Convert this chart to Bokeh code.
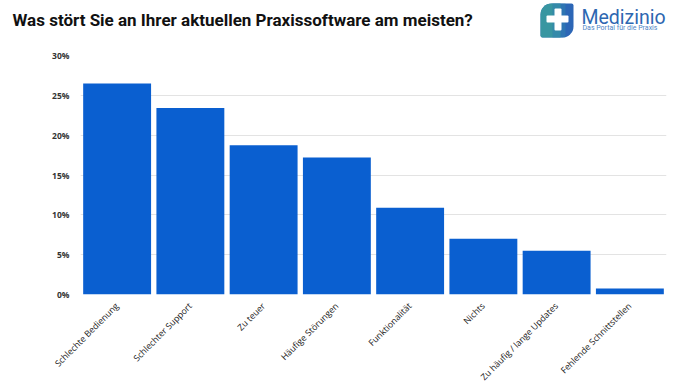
from bokeh.plotting import figure
from bokeh.layouts import column
from bokeh.models import ColumnDataSource, NumeralTickFormatter, FixedTicker, BoxAnnotation, Range1d
from bokeh.core.properties import value
from bokeh.embed import file_html
from bokeh.resources import INLINE
import math

title_text = "Was stört Sie an Ihrer aktuellen Praxissoftware am meisten?"
categories = ["Schlechte Bedienung", "Schlechter Support", "Zu teuer", "Häufige Störungen",
              "Funktionalität", "Nichts", "Zu häufig / lange Updates", "Fehlende Schnittstellen"]
values = [26.5, 23.4, 18.75, 17.2, 10.9, 7.0, 5.5, 0.75]
y_ticks = [0, 5, 10, 15, 20, 25, 30]

W = 678
HH = 48

# ---------- header (title + logo) ----------
h = figure(width=W, height=HH, x_range=Range1d(0, W), y_range=Range1d(HH, 0),
           output_backend="svg", toolbar_location=None,
           min_border=0, min_border_left=0, min_border_right=0, min_border_top=0, min_border_bottom=0)
h.frame_align = False
h.axis.visible = False
h.grid.visible = False
h.outline_line_color = None
h.background_fill_color = "white"
h.border_fill_color = "white"

h.text(x=[12], y=[19], text=[title_text], text_font=value("Roboto"), text_font_size="17px",
       text_font_style="bold", text_color="#111111", text_baseline="alphabetic")

def box(l, r, t, b, color, radius, alpha=1.0):
    h.add_layout(BoxAnnotation(left=l, right=r, top=t, bottom=b, fill_color=color,
                               fill_alpha=alpha, line_color=None, border_radius=radius))

box(540, 573, 3, 37, "#2c66b6", (11, 2, 11, 2))
box(540, 560, 3, 37, "#3b9f9d", (11, 0, 0, 2), 0.85)
box(552, 565, 3, 37, "#3182b0", 0, 0.55)
box(554, 561, 8, 30, "white", 1)
box(546, 568, 15, 22, "white", 1)

h.text(x=[581], y=[16.5], text=["Medizinio"], text_font=value("Roboto"), text_font_size="19.5px",
       text_color="#2d67b1", text_baseline="alphabetic")
h.text(x=[582], y=[27.5], text=["Das Portal für die Praxis"], text_font=value("Roboto"),
       text_font_size="7px", text_color="#4f86c6", text_baseline="alphabetic")

# ---------- chart ----------
src = ColumnDataSource(dict(cat=categories, val=[v / 100 for v in values]))

p = figure(x_range=categories, y_range=(0, 0.30), width=W, height=390 - HH,
           output_backend="svg", toolbar_location=None,
           min_border_left=80, min_border_right=12, min_border_top=7, min_border_bottom=95)
p.frame_align = False

p.vbar(x="cat", top="val", width=0.927, source=src, color="#0a5fd0", line_color=None)

p.yaxis.ticker = FixedTicker(ticks=[t / 100 for t in y_ticks])
p.yaxis.formatter = NumeralTickFormatter(format="0%")
p.yaxis.axis_line_color = None
p.yaxis.major_tick_line_color = None
p.yaxis.minor_tick_line_color = None
p.yaxis.major_label_text_font = "Open Sans"
p.yaxis.major_label_text_font_style = "bold"
p.yaxis.major_label_text_font_size = "8.5px"
p.yaxis.major_label_text_color = "#333333"
p.yaxis.major_label_standoff = 5

p.xaxis.axis_line_color = None
p.xaxis.major_tick_line_color = None
p.xaxis.major_label_orientation = math.pi / 4
p.xaxis.major_label_text_font = "Open Sans"
p.xaxis.major_label_text_font_size = "8.8px"
p.xaxis.major_label_text_color = "#222222"
p.xaxis.major_label_standoff = 4

p.xgrid.grid_line_color = None
p.ygrid.grid_line_color = "#e3e3e3"
p.outline_line_color = None
p.background_fill_color = "white"
p.border_fill_color = "white"

layout = column(h, p, spacing=0)
open("out.html", "w").write(file_html(layout, INLINE))
